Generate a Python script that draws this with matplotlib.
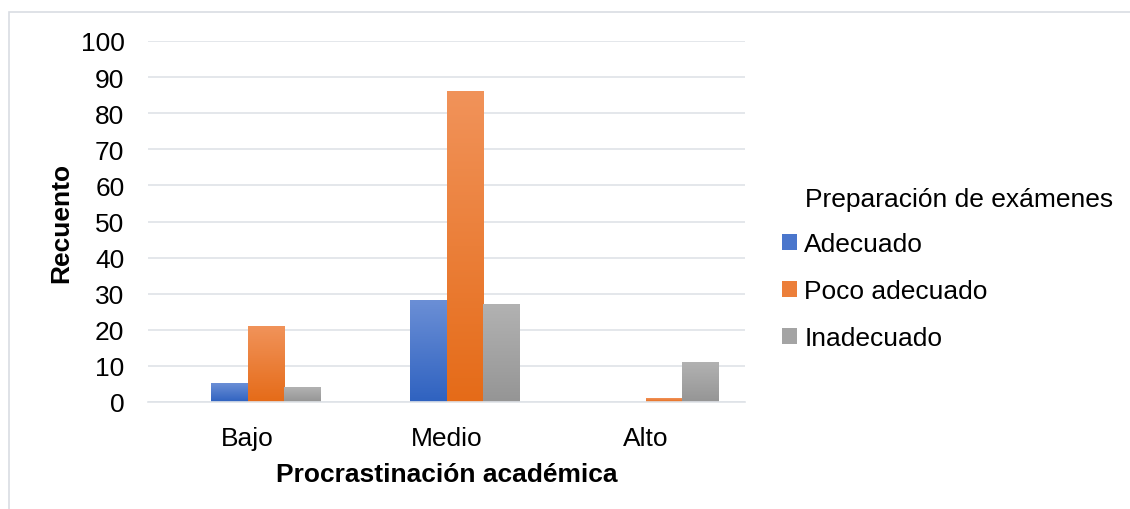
import numpy as np
import matplotlib
matplotlib.use("Agg")
import matplotlib.pyplot as plt
from matplotlib.colors import LinearSegmentedColormap
from matplotlib.patches import Rectangle

plt.rcParams['font.family'] = ['Liberation Sans', 'DejaVu Sans']

categories = ["Bajo", "Medio", "Alto"]
series_names = ["Adecuado", "Poco adecuado", "Inadecuado"]
adecuado = [5, 28, 0]
poco_adecuado = [21, 86, 1]
inadecuado = [4, 27, 11]
y_ticks = [0, 10, 20, 30, 40, 50, 60, 70, 80, 90, 100]

# (top colour, bottom colour) for each series' vertical gradient
gradients = [("#6b8fd6", "#2f62c0"),
             ("#f1935a", "#e56b18"),
             ("#b2b2b2", "#959595")]
legend_colors = ["#4a76cc", "#ec7f3a", "#a4a4a4"]

FS = 19

fig = plt.figure(figsize=(11.3, 5.1), dpi=100)
ax = fig.add_axes([148 / 1130, 1 - 403 / 510, (745 - 148) / 1130, (403 - 42) / 510])

# chart border
fig.patches.append(Rectangle((8.5 / 1130, -0.1), 1.2, (1 - 12.5 / 510) + 0.1,
                             transform=fig.transFigure, fill=False,
                             edgecolor="#d9dde3", linewidth=1.2, zorder=0))

x = np.arange(len(categories))
width = 0.183
values = [adecuado, poco_adecuado, inadecuado]

grad = np.linspace(1, 0, 256).reshape(-1, 1)
for i, (vals, name, (top, bot)) in enumerate(zip(values, series_names, gradients)):
    cmap = LinearSegmentedColormap.from_list(name, [bot, top])
    bars = ax.bar(x + (i - 0.5) * width, vals, width, color=bot, label=name, zorder=2)
    for b in bars:
        if b.get_height() <= 0:
            continue
        b.set_facecolor("none")
        b.set_edgecolor("none")
        x0, y0 = b.get_x(), b.get_y()
        ax.imshow(grad, cmap=cmap, aspect="auto", interpolation="bicubic",
                  extent=(x0, x0 + b.get_width(), y0, y0 + b.get_height()),
                  zorder=2)

ax.set_xlim(-0.5, 2.5)
ax.set_ylim(0, 100)
ax.set_yticks(y_ticks)
ax.set_xticks(x)
ax.set_xticklabels(categories)
ax.tick_params(axis="both", length=0, labelsize=FS, colors="black")
ax.tick_params(axis="x", pad=17)
ax.tick_params(axis="y", pad=17)
ax.grid(axis="y", color="#dfe3e8", linewidth=1.2, zorder=0)
ax.set_axisbelow(True)
for s in ["top", "right", "left"]:
    ax.spines[s].set_visible(False)
ax.spines["bottom"].set_color("#dfe3e8")
ax.spines["bottom"].set_linewidth(1.2)

ax.set_xlabel("Procrastinación académica", fontsize=FS, fontweight="bold", labelpad=9)
ax.set_ylabel("Recuento", fontsize=FS, fontweight="bold", labelpad=5)

# legend title drawn separately so it lines up with the entry text
fig.text(805 / 1130, 1 - 200 / 510, "Preparación de exámenes", fontsize=FS,
         ha="left", va="center")
handles = [Rectangle((0, 0), 1, 1, facecolor=c) for c in legend_colors]
leg = fig.legend(handles, series_names,
                 loc="upper left", bbox_to_anchor=(782 / 1130, 1 - 233 / 510),
                 frameon=False, fontsize=FS,
                 handlelength=0.55, handleheight=0.55, handletextpad=0.3,
                 labelspacing=0.88, borderaxespad=0, borderpad=0)

fig.savefig("out.png", dpi=100, facecolor="white")
